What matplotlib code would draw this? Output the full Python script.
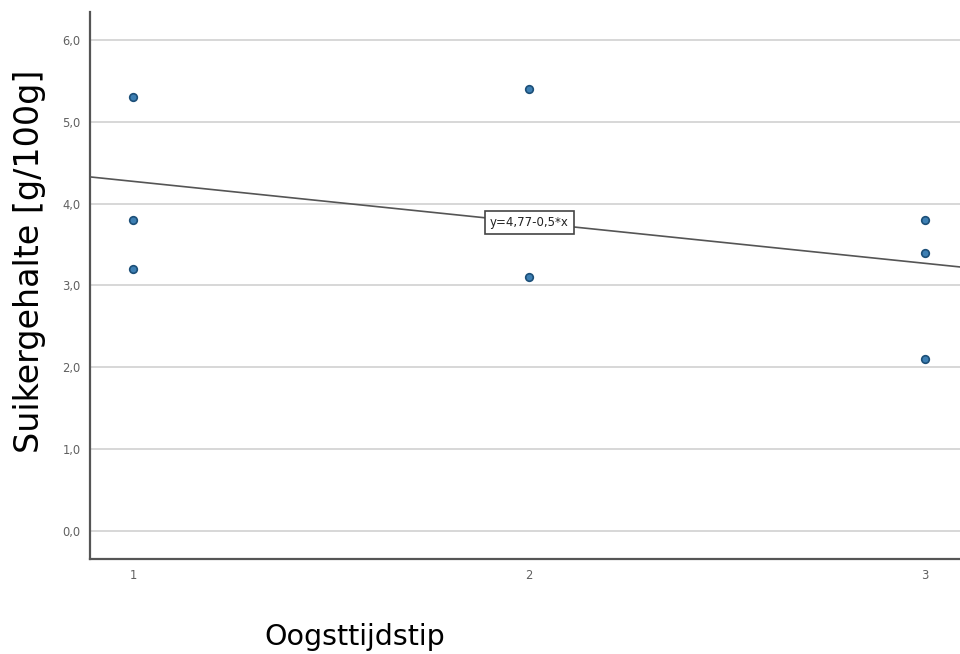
import numpy as np
import matplotlib
matplotlib.use('Agg')
import matplotlib.pyplot as plt
from matplotlib.ticker import FuncFormatter

# data
oogst = [1, 1, 1, 2, 2, 3, 3, 3]
suiker = [5.3, 3.8, 3.2, 5.4, 3.1, 3.8, 3.4, 2.1]
# fitted line as shown in the label
b0 = 4.77
b1 = -0.5
yticks = [0, 1, 2, 3, 4, 5, 6]
xticks = [1, 2, 3]

fig = plt.figure(figsize=(9.6, 6.54), dpi=100)
ax = fig.add_axes([0.094, 0.145, 0.906, 0.837])

ax.set_xlim(0.891, 3.088)
ax.set_ylim(-0.34, 6.34)

for t in yticks:
    ax.axhline(t, color='#d4d4d4', lw=1.3, zorder=0)

x0 = np.array(ax.get_xlim())
ax.plot(x0, b0 + b1 * x0, color='#555555', lw=1.2, zorder=2)

ax.scatter(oogst, suiker, s=30, color='#3d7fb3', edgecolors='#1c4f78',
           linewidths=1.2, zorder=3)

ax.text(2, b0 + b1 * 2, 'y=4,77-0,5*x', fontsize=8.5, ha='center', va='center',
        zorder=4, color='#222222',
        bbox=dict(boxstyle='square,pad=0.45', fc='white', ec='#444444', lw=1.2))

ax.set_yticks(yticks)
ax.set_xticks(xticks)
ax.yaxis.set_major_formatter(FuncFormatter(lambda v, p: f'{v:.1f}'.replace('.', ',')))
ax.tick_params(length=0, labelsize=8.3, colors='#606060', pad=7)

for s in ['top', 'right']:
    ax.spines[s].set_visible(False)
for s in ['left', 'bottom']:
    ax.spines[s].set_color('#555555')
    ax.spines[s].set_linewidth(1.6)

fig.text(0.031, 0.6, 'Suikergehalte [g/100g]', rotation=90, fontsize=24,
         ha='center', va='center')
fig.text(0.37, 0.026, 'Oogsttijdstip', fontsize=20.5, ha='center', va='center')

plt.savefig('out.png', dpi=100)
